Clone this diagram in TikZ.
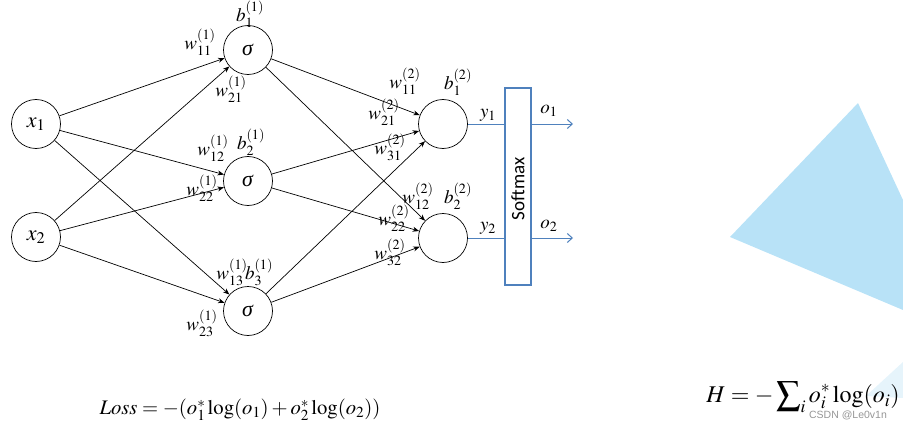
\documentclass[tikz,border=0pt]{standalone}
\usepackage{mathptmx}
\usepackage[no-math]{fontspec}
\setmainfont{Liberation Serif}
\newfontfamily\calib{Carlito}
\newfontfamily\wmfont{Liberation Sans}
\usetikzlibrary{arrows.meta}
\definecolor{smblue}{RGB}{79,129,189}
\definecolor{tri}{RGB}{184,226,247}
\definecolor{tripale}{RGB}{230,244,251}
\definecolor{wmgray}{RGB}{150,150,150}
\newcommand{\sig}{\textit{σ}}
\begin{document}
\begin{tikzpicture}[x=1pt,y=-1pt,
  neuron/.style={circle, draw, line width=0.7pt, minimum size=49pt, inner sep=0pt, font=\fontsize{22}{24}\selectfont},
  lbl/.style={inner sep=0pt, font=\fontsize{19}{21}\selectfont},
  edge/.style={line width=0.7pt, -{Stealth[length=6.5pt,width=5pt]}},
  blueline/.style={draw=smblue, line width=1pt},
  bluearrow/.style={draw=smblue, line width=1pt, -{Straight Barb[length=5pt,width=9pt]}}]
\useasboundingbox (0,0) rectangle (903,428);
% background triangle
\fill[tri] (858,103) -- (903,200) -- (903,310) -- (730,237) -- cycle;
\fill[tripale] (866,396) -- (903,362) -- (903,398) -- cycle;
% nodes
\node[neuron] (x1) at (36,124) {$x_1$};
\node[neuron] (x2) at (36,237) {$x_2$};
\node[neuron] (h1) at (248,50) {\sig};
\node[neuron] (h2) at (248,181) {\sig};
\node[neuron] (h3) at (248,311) {\sig};
\node[neuron] (o1) at (443,124) {};
\node[neuron] (o2) at (443,238) {};
\node[draw=smblue, line width=2pt, minimum width=26pt, minimum height=197pt, inner sep=0pt] (sm) at (518,186.5) {};
\node[rotate=90, inner sep=0pt, font=\calib\fontsize{19}{21}\selectfont] (smt) at (518,189) {Softmax};
% edges
\foreach \s in {x1,x2}{\foreach \t in {h1,h2,h3}{\draw[edge] (\s) -- (\t);}}
\foreach \s in {h1,h2,h3}{\foreach \t in {o1,o2}{\draw[edge] (\s) -- (\t);}}
% blue
\coordinate (e1) at (573,124);
\coordinate (e2) at (573,238);
\draw[blueline] (o1.east) -- (o1.east -| sm.west);
\draw[blueline] (o2.east) -- (o2.east -| sm.west);
\draw[bluearrow] (o1.east -| sm.east) -- (e1);
\draw[bluearrow] (o2.east -| sm.east) -- (e2);
% labels
\node[lbl] (b11) at (250,14) {$b_1^{(1)}$};
\node[lbl] (w111) at (200,42) {$w_{11}^{(1)}$};
\node[lbl] (w211) at (231,89) {$w_{21}^{(1)}$};
\node[lbl] (w121) at (213,148) {$w_{12}^{(1)}$};
\node[lbl] (b21) at (251,142) {$b_2^{(1)}$};
\node[lbl] (w221) at (202,188) {$w_{22}^{(1)}$};
\node[lbl] (w131) at (232,272) {$w_{13}^{(1)}$};
\node[lbl] (b31) at (259,272) {$b_3^{(1)}$};
\node[lbl] (w231) at (202,323) {$w_{23}^{(1)}$};
\node[lbl] (w112) at (405,81) {$w_{11}^{(2)}$};
\node[lbl] (b12) at (458,82) {$b_1^{(2)}$};
\node[lbl] (w212) at (384,112) {$w_{21}^{(2)}$};
\node[lbl] (w312) at (390,147) {$w_{31}^{(2)}$};
\node[lbl] (w122) at (418,196) {$w_{12}^{(2)}$};
\node[lbl] (b22) at (458,196) {$b_2^{(2)}$};
\node[lbl] (w222) at (394,218) {$w_{22}^{(2)}$};
\node[lbl] (w322) at (390,252) {$w_{32}^{(2)}$};
\node[lbl] (y1) at (488,115) {$y_1$};
\node[lbl] (y2) at (488,228) {$y_2$};
\node[lbl] (ol1) at (549,111) {$o_1$};
\node[lbl] (ol2) at (549,226) {$o_2$};
% formulas
\node[inner sep=0pt, font=\fontsize{20.7}{23}\selectfont] (loss) at (240,410) {$\mathit{Loss}=-(o_1^*\log(o_1)+o_2^*\log(o_2))$};
\node[inner sep=0pt, font=\fontsize{24}{26}\selectfont] (hf) at (803,397) {$H=-\displaystyle\sum\nolimits_i o_i^*\log(o_i)$};
\node[inner sep=0pt, text=wmgray, font=\wmfont\fontsize{10.5}{12}\selectfont] (wm) at (848,415) {CSDN @Le0v1n};
\end{tikzpicture}
\end{document}
